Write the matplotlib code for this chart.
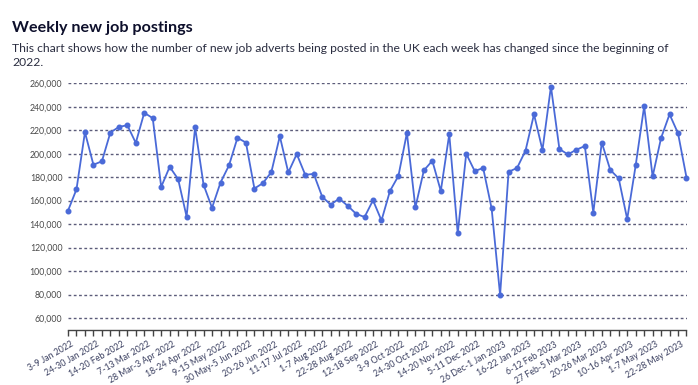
#!/usr/bin/env python3
# -*- coding: utf-8 -*-

"""
Weekly new job postings in the UK, line chart with markers.
"""

import matplotlib
matplotlib.use("Agg")
import matplotlib.pyplot as plt
from matplotlib.ticker import FuncFormatter
import matplotlib.transforms as mtransforms
import numpy as np

# ===============================
# Data
# ===============================

title = "Weekly new job postings"
subtitle_1 = ("This chart shows how the number of new job adverts being posted in the UK "
              "each week has changed since the beginning of")
subtitle_2 = "2022."

# one value per week, starting 3-9 Jan 2022
postings = [
    151400, 169600, 218300, 190600, 193500, 218000, 222800, 224300, 209200, 234900,
    230300, 171700, 188800, 178300, 146300, 222600, 173500, 153900, 175400, 190000,
    213500, 209500, 170300, 174900, 184300, 214900, 184000, 199700, 182000, 182800,
    163400, 156500, 161700, 155700, 148800, 146000, 160300, 143100, 168200, 181100,
    217700, 154200, 185700, 194000, 168200, 216600, 132000, 200000, 185200, 187800,
    153300, 79500, 184600, 187800, 202600, 233600, 203100, 257200, 204000, 199400,
    203400, 206500, 149800, 209500, 186200, 178900, 144300, 190000, 240300, 180600,
    213400, 233600, 217400, 179700,
]

# every third week gets a label
week_labels = [
    "3-9 Jan 2022", "24-30 Jan 2022", "14-20 Feb 2022", "7-13 Mar 2022",
    "28 Mar-3 Apr 2022", "18-24 Apr 2022", "9-15 May 2022", "30 May-5 Jun 2022",
    "20-26 Jun 2022", "11-17 Jul 2022", "1-7 Aug 2022", "22-28 Aug 2022",
    "12-18 Sep 2022", "3-9 Oct 2022", "24-30 Oct 2022", "14-20 Nov 2022",
    "5-11 Dec 2022", "26 Dec-1 Jan 2023", "16-22 Jan 2023", "6-12 Feb 2023",
    "27 Feb-5 Mar 2023", "20-26 Mar 2023", "10-16 Apr 2023", "1-7 May 2023",
    "22-28 May 2023",
]

yticks = [60000, 80000, 100000, 120000, 140000, 160000, 180000, 200000,
          220000, 240000, 260000]

# ===============================
# Plot
# ===============================

plt.rcParams["font.family"] = ["Lato", "DejaVu Sans"]

linecolor = "#4a6ad8"
gridcolor = "#5c5c7a"

fig = plt.figure(figsize=(6.98, 3.85), dpi=100)
ax = fig.add_axes([68 / 698, 1 - 329.7 / 385, 618.5 / 698, 246.4 / 385])

x = np.arange(len(postings))
ax.plot(x, postings, color=linecolor, linewidth=1.3, marker="o",
        markersize=3.3, zorder=3, clip_on=False)

ax.set_xlim(0, len(postings) - 1)
ax.set_ylim(50000, 260000)

ax.set_yticks(yticks)
ax.yaxis.set_major_formatter(FuncFormatter(lambda v, p: "{:,.0f}".format(v)))
ax.grid(axis="y", color=gridcolor, linestyle=(0, (2, 1.8)), linewidth=1)
ax.set_axisbelow(True)

ax.set_xticks(x, minor=True)
ax.set_xticks(x[::3])
ax.set_xticklabels(week_labels, rotation=30, ha="right", rotation_mode="anchor")

ax.tick_params(axis="y", length=0, pad=4, labelsize=6.3, labelcolor="#4a4a4a")
ax.tick_params(axis="x", which="both", length=4, width=1, color="#444444",
               direction="out", labelsize=6.3, labelcolor="#3a3f60", pad=3.2)

# nudge the rotated labels a little to the right of their ticks
shift = mtransforms.ScaledTranslation(3 / 100, 0, fig.dpi_scale_trans)
for lbl in ax.get_xticklabels():
    lbl.set_transform(lbl.get_transform() + shift)

for side in ["left", "right", "top"]:
    ax.spines[side].set_visible(False)
ax.spines["bottom"].set_color("#444444")
ax.spines["bottom"].set_linewidth(1)

fig.text(12.5 / 698, 1 - 31.7 / 385, title, fontsize=11.6, fontweight="bold",
         color="#0d0f2b", va="baseline", ha="left")
fig.text(12.5 / 698, 1 - 52.3 / 385, subtitle_1, fontsize=8.7, color="#2a2d40",
         va="baseline", ha="left")
fig.text(12.5 / 698, 1 - 66 / 385, subtitle_2, fontsize=8.7, color="#2a2d40",
         va="baseline", ha="left")

fig.savefig("out.png", dpi=100)
